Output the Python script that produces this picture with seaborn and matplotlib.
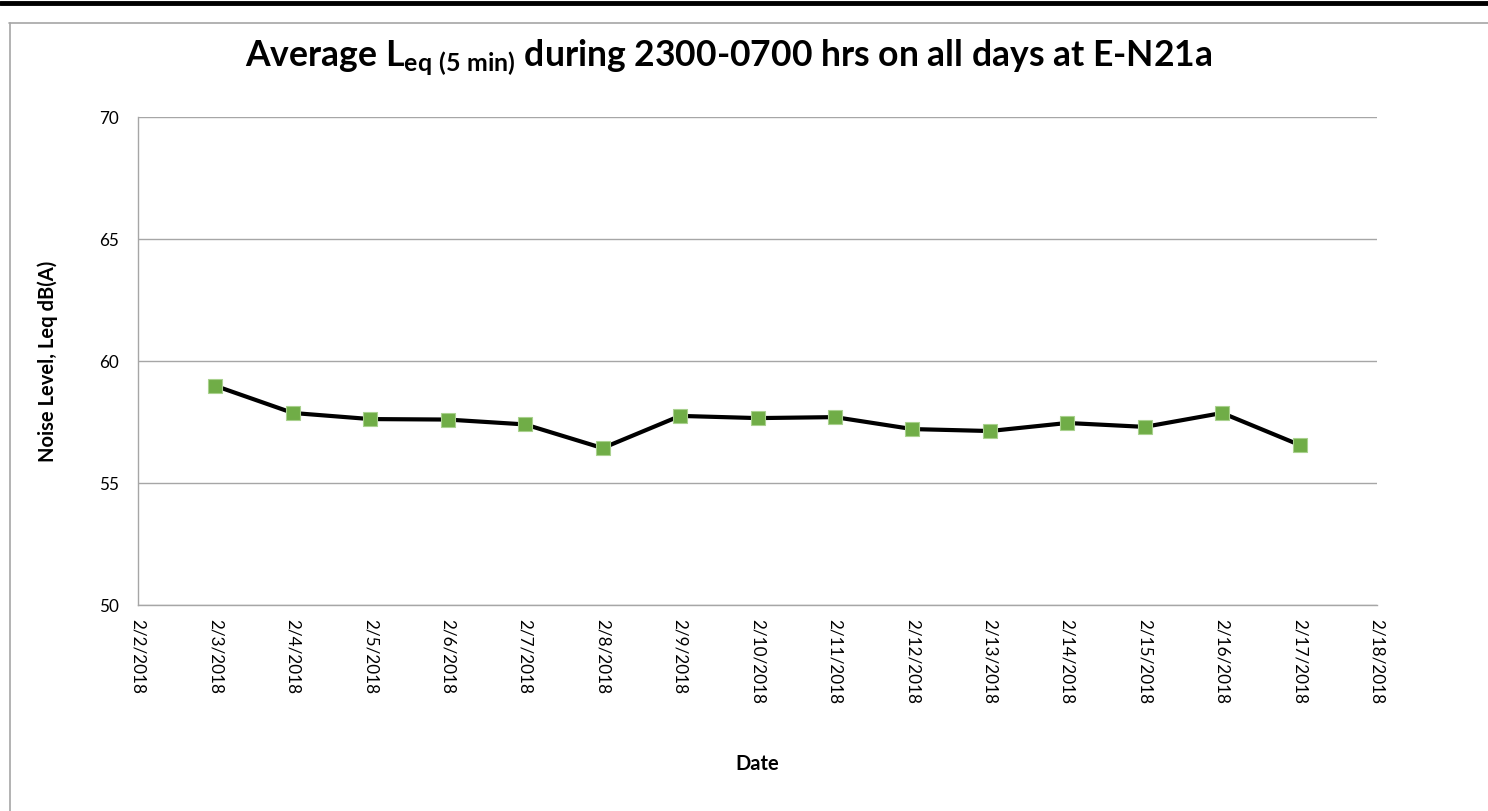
import matplotlib
matplotlib.use("Agg")
import matplotlib.pyplot as plt
import matplotlib.dates as mdates
from matplotlib.lines import Line2D
import seaborn as sns
import pandas as pd
import numpy as np

dates = ["2018-02-03", "2018-02-04", "2018-02-05", "2018-02-06", "2018-02-07",
         "2018-02-08", "2018-02-09", "2018-02-10", "2018-02-11", "2018-02-12",
         "2018-02-13", "2018-02-14", "2018-02-15", "2018-02-16", "2018-02-17"]
leq_values = [58.98, 57.87, 57.62, 57.60, 57.40, 56.43, 57.75, 57.66, 57.70,
              57.21, 57.13, 57.46, 57.30, 57.87, 56.56]
y_ticks = [50, 55, 60, 65, 70]
x_start = "2018-02-02"
x_end = "2018-02-18"

sns.set_theme(style="white")
plt.rcParams['font.family'] = ['Lato', 'DejaVu Sans']
plt.rcParams['text.color'] = 'black'
plt.rcParams['axes.labelcolor'] = 'black'
plt.rcParams['mathtext.fontset'] = 'custom'
plt.rcParams['mathtext.rm'] = 'Lato:bold'
plt.rcParams['mathtext.it'] = 'Lato:bold'
plt.rcParams['mathtext.bf'] = 'Lato:bold'

df = pd.DataFrame({"Date": pd.to_datetime(dates), "Leq": leq_values})

fig = plt.figure(figsize=(14.88, 8.11), dpi=100)
ax = fig.add_axes([138/1488, 1-605/811, (1377-138)/1488, (605-117)/811])

sns.lineplot(data=df, x="Date", y="Leq", ax=ax, color="black", linewidth=3,
             marker="s", markersize=10.5, markerfacecolor="#70AD47",
             markeredgecolor="#A9D18E", markeredgewidth=0.8, zorder=3)

ax.set_ylim(50, 70)
ax.set_yticks(y_ticks)
ax.set_xlim(pd.Timestamp(x_start), pd.Timestamp(x_end))
ax.xaxis.set_major_locator(mdates.DayLocator())
ax.xaxis.set_major_formatter(mdates.DateFormatter("%-m/%-d/%Y"))
plt.setp(ax.get_xticklabels(), rotation=270, ha="center", va="top")
ax.tick_params(axis="both", length=0, labelsize=12.3, colors="black")
ax.tick_params(axis="x", pad=10)
ax.tick_params(axis="y", pad=14)

ax.grid(axis="y", color="#A6A6A6", linewidth=1)
ax.set_axisbelow(True)
for s in ["top", "right"]:
    ax.spines[s].set_visible(False)
for s in ["left", "bottom"]:
    ax.spines[s].set_color("#A6A6A6")
    ax.spines[s].set_linewidth(1)

ax.set_xlabel("Date", fontsize=14.5, fontweight="bold", labelpad=36, color="black")
ax.set_ylabel("Noise Level, Leq dB(A)", fontsize=14.5, fontweight="bold", labelpad=29, color="black")

fig.text(729/1488, 1-58/811,
         r"Average L$_{\mathrm{eq\ (5\ min)}}$ during 2300-0700 hrs on all days at E-N21a",
         fontsize=25.6, fontweight="bold", ha="center", va="center", color="black")

fig.add_artist(Line2D([0, 1], [1-2.5/811, 1-2.5/811], color="black", linewidth=3.5,
                      transform=fig.transFigure))
fig.add_artist(Line2D([9/1488, 1], [1-22.5/811, 1-22.5/811], color="#A6A6A6", linewidth=1.2,
                      transform=fig.transFigure))
fig.add_artist(Line2D([9.5/1488, 9.5/1488], [0, 1-22.5/811], color="#A6A6A6", linewidth=1.2,
                      transform=fig.transFigure))

fig.savefig("out.png", dpi=100)
